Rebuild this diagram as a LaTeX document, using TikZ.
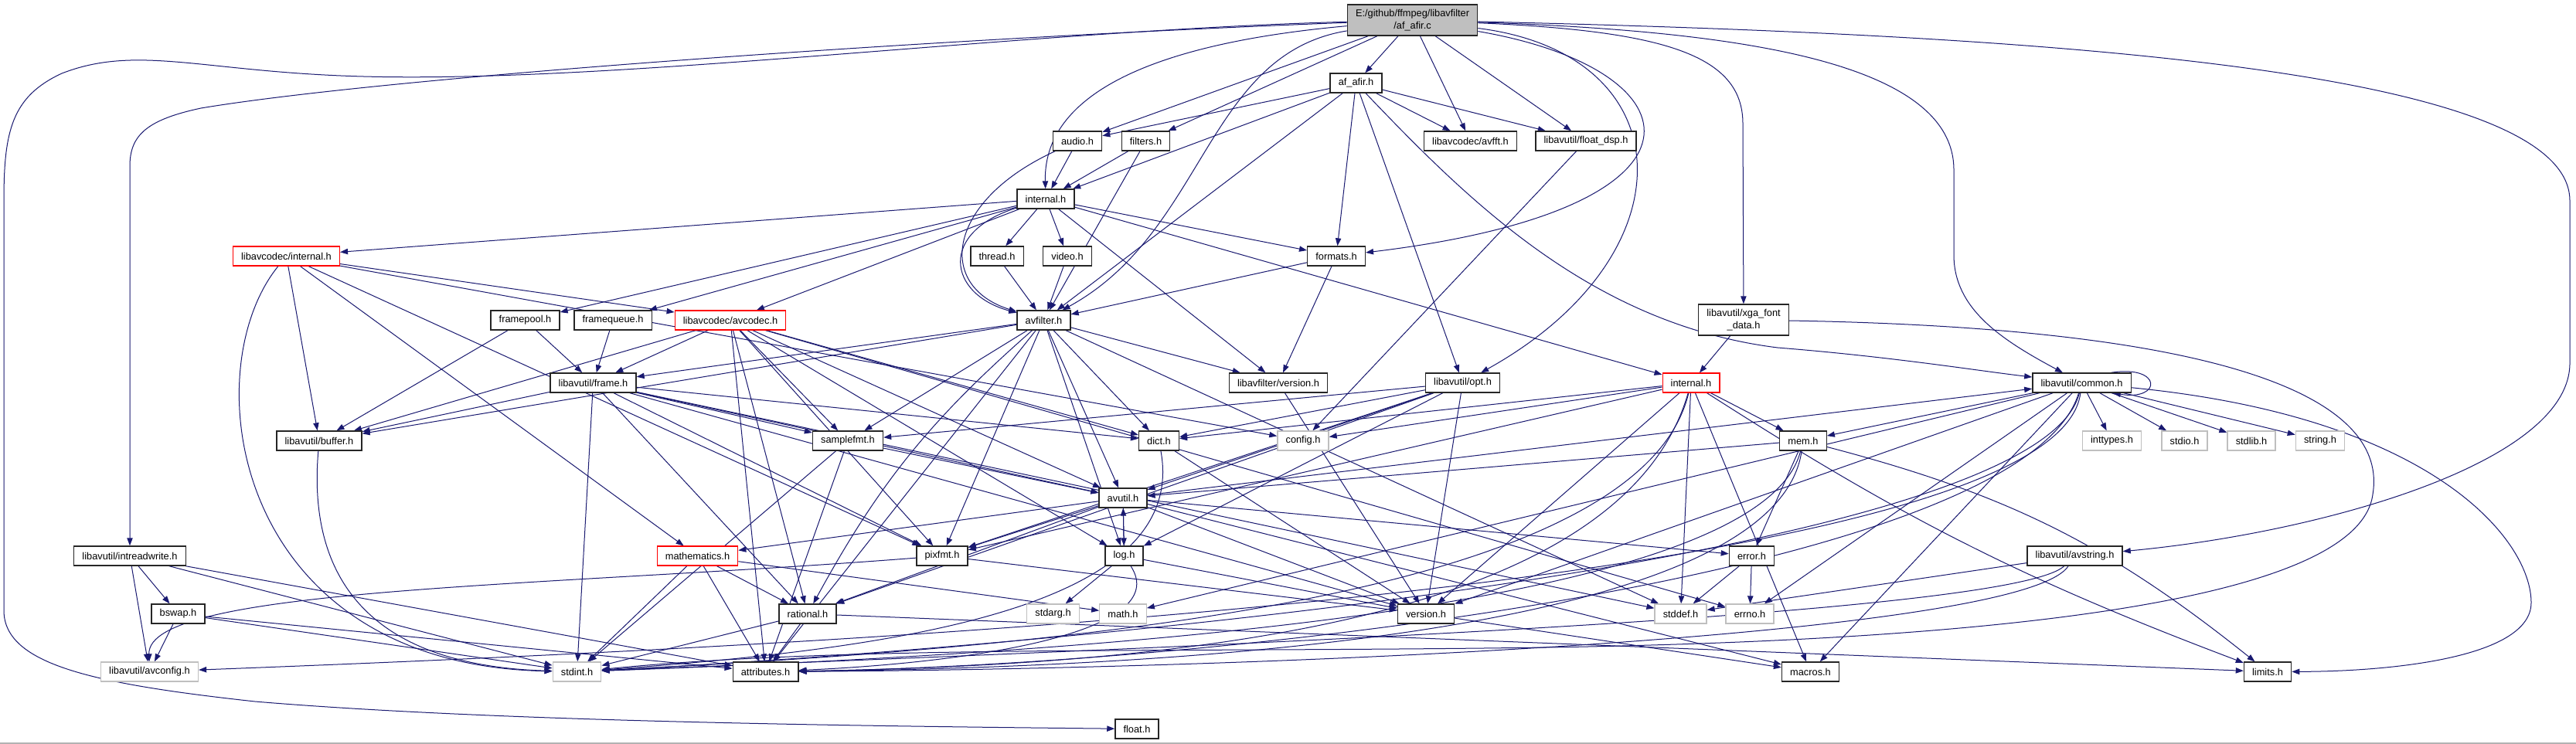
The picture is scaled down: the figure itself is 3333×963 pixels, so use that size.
\documentclass[tikz,border=0pt]{standalone}
\usepackage{fontspec}
\setmainfont{Liberation Sans}
\usetikzlibrary{arrows.meta}
\pgfdeclarelayer{paper}
\pgfdeclarelayer{edges}
\pgfsetlayers{paper,edges,main}
\definecolor{edgeblue}{HTML}{191970}

\begin{document}
\begin{tikzpicture}[
    x=0.75pt, y=-0.75pt,
    >={Triangle[length=7.5pt,width=5.5pt]},
    hdr/.style={draw=black!85, line width=1pt, fill=white,
      font=\fontsize{9.6}{11.5}\selectfont, inner xsep=8pt, inner ysep=2pt,
      minimum height=18.75pt, align=center},
    sys/.style={hdr, draw=black!25},
    trunc/.style={hdr, draw=red, line width=0.8pt},
    top/.style={hdr, fill=black!25, minimum height=30pt},
    dep/.style={draw=edgeblue, line width=0.75pt, ->},
]
\useasboundingbox (0,0) rectangle (3333,963);
\begin{pgfonlayer}{paper}
\fill[white] (0,0) rectangle (3333,963);
\draw[black!30, line width=1.5pt] (0,961.5) -- (3333,961.5);
\end{pgfonlayer}

% ---------------------------------------------------------
% files
% ---------------------------------------------------------
\node[top] (root) at (1827.5,26) {E:/github/ffmpeg/libavfilter\\/af\_afir.c};

\node[hdr] (afirh)    at (1754.5,107.5) {af\_afir.h};
\node[hdr] (audio)    at (1394,182.5)   {audio.h};
\node[hdr] (filters)  at (1482.5,182.5) {filters.h};
\node[hdr] (avfft)    at (1902.5,182.5) {libavcodec/avfft.h};
\node[hdr] (floatdsp) at (2052,182.5)   {libavutil/float\_dsp.h};
\node[hdr] (lavfint)  at (1353,257.5)   {internal.h};

\node[trunc] (lcint)  at (370.5,331.5)  {libavcodec/internal.h};
\node[hdr] (thread)   at (1290,331.5)   {thread.h};
\node[hdr] (video)    at (1381,331.5)   {video.h};
\node[hdr] (formats)  at (1729,331.5)   {formats.h};

\node[hdr] (framepool)  at (679.5,414.5) {framepool.h};
\node[hdr] (framequeue) at (793,414.5)   {framequeue.h};
\node[trunc] (avcodec)  at (945,414.5)   {libavcodec/avcodec.h};
\node[hdr] (avfilter)   at (1350.5,414.5) {avfilter.h};
\node[hdr, minimum height=30pt] (xga) at (2256,414) {libavutil/xga\_font\\\_data.h};

\node[hdr] (frame)    at (767.5,495.5)  {libavutil/frame.h};
\node[hdr] (lavfver)  at (1654,495.5)   {libavfilter/version.h};
\node[hdr] (opt)      at (1892.5,495.5) {libavutil/opt.h};
\node[trunc] (luint)  at (2188,495.5)   {internal.h};
\node[hdr] (common)   at (2693.5,495.5) {libavutil/common.h};

\node[hdr] (buffer)    at (413,570.5)    {libavutil/buffer.h};
\node[hdr] (samplefmt) at (1097,570.5)   {samplefmt.h};
\node[hdr] (dict)      at (1499.5,570.5) {dict.h};
\node[sys] (config)    at (1686,570.5)   {config.h};
\node[hdr] (mem)       at (2333,570.5)   {mem.h};
\node[sys] (inttypes)  at (2732.5,570.5) {inttypes.h};
\node[sys] (stdio)     at (2826.5,570.5) {stdio.h};
\node[sys] (stdlib)    at (2913,570.5)   {stdlib.h};
\node[sys] (stringh)   at (3002,570.5)   {string.h};

\node[hdr] (avutil) at (1453,644.5) {avutil.h};

\node[hdr] (intrw)         at (168,719.5)    {libavutil/intreadwrite.h};
\node[trunc] (mathematics) at (902.5,719.5)  {mathematics.h};
\node[hdr] (pixfmt)        at (1219,719.5)   {pixfmt.h};
\node[hdr] (logh)          at (1454.5,719.5) {log.h};
\node[hdr] (error)         at (2266.5,719.5) {error.h};
\node[hdr] (avstring)      at (2684.5,719.5) {libavutil/avstring.h};

\node[hdr] (bswap)    at (230.5,794.5)  {bswap.h};
\node[hdr] (rational) at (1045,794.5)   {rational.h};
\node[sys] (stdarg)   at (1362.5,794.5) {stdarg.h};
\node[sys] (mathh)    at (1453,794.5)   {math.h};
\node[hdr] (version)  at (1845,794.5)   {version.h};
\node[sys] (stddef)   at (2174.5,794.5) {stddef.h};
\node[sys] (errno)    at (2264,794.5)   {errno.h};

\node[sys] (avconfig)   at (193.5,869.5)  {libavutil/avconfig.h};
\node[sys] (stdint)     at (746.5,869.5)  {stdint.h};
\node[hdr] (attributes) at (990.5,869.5)  {attributes.h};
\node[hdr] (macros)     at (2342.5,869.5) {macros.h};
\node[hdr] (limits)     at (2934,869.5)   {limits.h};

\node[hdr] (floath) at (1471,943.5) {float.h};

% ---------------------------------------------------------
% includes
% ---------------------------------------------------------
\begin{pgfonlayer}{edges}
\foreach \a/\b in {
    root/afirh, root/avfft, root/floatdsp, root/audio, root/filters,
    afirh/audio, afirh/lavfint, afirh/avfilter, afirh/formats, afirh/opt,
    afirh/avfft, afirh/floatdsp,
    audio/lavfint, filters/lavfint, filters/avfilter,
    lavfint/lcint, lavfint/framepool, lavfint/framequeue, lavfint/avcodec,
    lavfint/thread, lavfint/video, lavfint/lavfver, lavfint/formats, lavfint/luint,
    thread/avfilter, video/avfilter, formats/avfilter, formats/lavfver,
    framepool/frame, framepool/buffer, framequeue/frame,
    lcint/buffer, lcint/mathematics, lcint/pixfmt, lcint/avcodec, lcint/config,
    avcodec/frame, avcodec/buffer, avcodec/samplefmt, avcodec/dict, avcodec/avutil,
    avcodec/logh, avcodec/pixfmt, avcodec/rational, avcodec/attributes, avcodec/errno,
    avfilter/stddef, avfilter/attributes, avfilter/avutil, avfilter/buffer,
    avfilter/dict, avfilter/frame, avfilter/logh, avfilter/samplefmt,
    avfilter/pixfmt, avfilter/lavfver,
    lavfver/version,
    opt/rational, opt/avutil, opt/dict, opt/logh, opt/pixfmt, opt/samplefmt, opt/version,
    luint/config, luint/dict, luint/mem, luint/pixfmt, luint/version,
    luint/stddef, luint/macros,
    xga/luint, floatdsp/config,
    frame/stddef, frame/stdint, frame/avutil, frame/buffer, frame/dict,
    frame/rational, frame/samplefmt, frame/pixfmt, frame/version,
    samplefmt/stdint, samplefmt/avutil, samplefmt/attributes,
    dict/version,
    avutil/common, avutil/error, avutil/rational, avutil/version,
    avutil/macros, avutil/mathematics, avutil/logh, avutil/pixfmt,
    mathematics/stdint, mathematics/mathh, mathematics/attributes, mathematics/rational,
    pixfmt/version,
    logh/stdarg, logh/avutil, logh/version,
    rational/stdint, rational/limits, rational/attributes,
    error/errno, error/stddef,
    mem/error, mem/avutil,
    avstring/stddef,
    intrw/stdint, intrw/avconfig, intrw/attributes, intrw/bswap,
    bswap/stdint, bswap/avconfig, bswap/attributes,
    version/macros,
    common/errno, common/inttypes, common/mathh, common/stdio, common/stdlib,
    common/stringh, common/macros, common/version, common/mem}
  \draw[dep] (\a) -- (\b);

% pairs that would lie on top of one another
\draw[dep] (mem) to[bend left=12] (limits);
\draw[dep] (luint) to[bend right=6] (limits);
\draw[dep] (avfilter) to[bend right=10] (rational);

% long ones from the source file
\draw[dep] (root) .. controls (1300,40) and (750,115) .. (420,97)
  .. controls (250,88) and (170,60) .. (80,95)
  .. controls (15,125) and (5,170) .. (5,260) -- (5,790)
  .. controls (5,860) and (120,885) .. (330,908)
  .. controls (650,935) and (1150,940) .. (floath);
\draw[dep] (root) .. controls (1200,50) and (500,100) .. (260,140)
  .. controls (190,155) and (168,175) .. (168,215) -- (intrw);
\draw[dep] (root) .. controls (2250,40) and (2528,80) .. (2528,220) -- (2528,330)
  .. controls (2528,400) and (2590,440) .. (common);
\draw[dep] (root) .. controls (2650,45) and (3325,90) .. (3325,260) -- (3325,470)
  .. controls (3325,600) and (3000,690) .. (avstring);
\draw[dep] (root) .. controls (2150,40) and (2255,70) .. (2255,160) -- (xga);
\draw[dep] (root) .. controls (2200,90) and (2240,270) .. (formats);
\draw[dep] (root) .. controls (2180,70) and (2190,330) .. (opt);
\draw[dep] (root) .. controls (1450,60) and (1350,140) .. (lavfint);
\draw[dep] (root) .. controls (1560,70) and (1560,300) .. (avfilter);

\draw[dep] (afirh) .. controls (1900,260) and (2060,420) .. (2300,450)
  .. controls (2450,462) and (2560,480) .. (common);
\draw[dep] (audio) .. controls (1225,260) and (1210,370) .. (avfilter);
\draw[dep] (lavfint) .. controls (1215,300) and (1225,380) .. (avfilter);

% sweeps along the bottom
\draw[dep] (common) .. controls (2640,720) and (1400,835) .. (stdint);
\draw[dep] (common) .. controls (2620,740) and (1600,860) .. (attributes);
\draw[dep] (common) .. controls (2660,760) and (1100,835) .. (avconfig);
\draw[dep] (common) .. controls (3150,540) and (3275,700) .. (3275,780)
  .. controls (3275,850) and (3100,869) .. (limits);
\draw[dep] ([xshift=-20pt]common.north east)
  .. controls ([xshift=30pt,yshift=8pt]common.north east)
  and ([xshift=30pt,yshift=-8pt]common.south east) .. ([xshift=-18pt]common.south east);
\draw[dep] (mem) .. controls (2280,780) and (1500,842) .. (stdint);
\draw[dep] (mem) .. controls (2300,800) and (1650,862) .. (attributes);
\draw[dep] (luint) .. controls (2120,780) and (1350,838) .. (stdint);
\draw[dep] (luint) .. controls (2100,800) and (1550,860) .. (attributes);
\draw[dep] (avstring) .. controls (2600,800) and (1450,840) .. (stdint);
\draw[dep] (avstring) .. controls (2620,820) and (1700,865) .. (attributes);
\draw[dep] (xga) .. controls (2900,425) and (3090,520) .. (3070,640)
  .. controls (3050,790) and (2500,830) .. (2000,838)
  .. controls (1500,845) and (1100,835) .. (stdint);
\draw[dep] (logh) .. controls (1520,820) and (1250,858) .. (attributes);
\draw[dep] (dict) .. controls (1540,790) and (1150,840) .. (stdint);
\draw[dep] (buffer) .. controls (400,720) and (450,860) .. (stdint);
\draw[dep] (lcint) .. controls (250,480) and (300,860) .. (stdint);
\draw[dep] (pixfmt) .. controls (700,760) and (190,760) .. (avconfig);
\end{pgfonlayer}

\end{tikzpicture}
\end{document}
